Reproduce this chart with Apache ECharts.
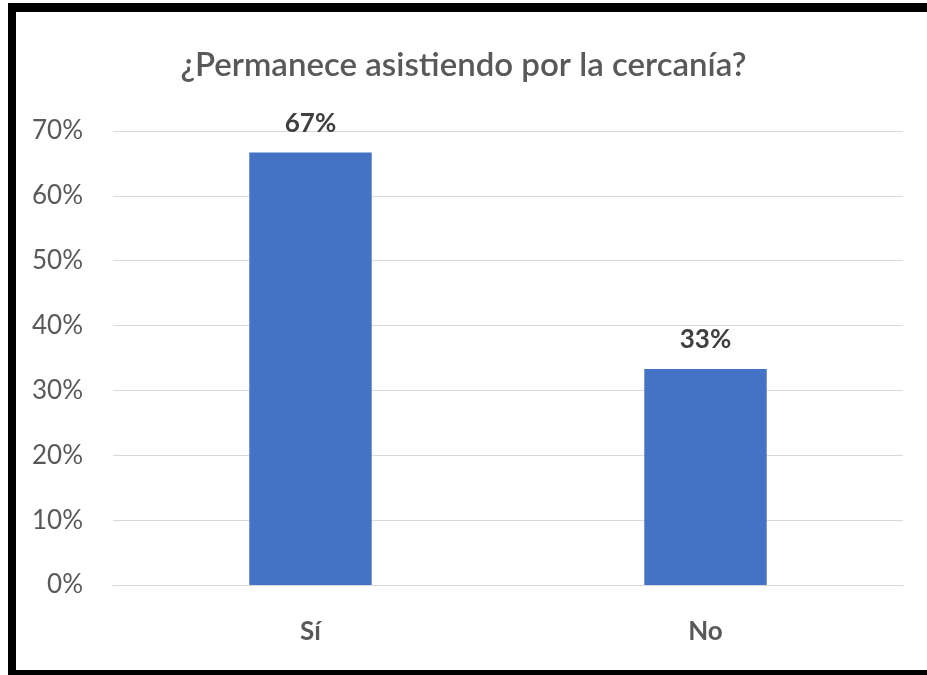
<!DOCTYPE html>
<html>
<head>
<meta charset="utf-8">
<script src="https://cdn.jsdelivr.net/npm/echarts@6/dist/echarts.min.js"></script>
<style>
html,body{margin:0;padding:0;background:#fff;}
#wrap{position:relative;width:927px;height:675px;overflow:hidden;background:#fff;}
#chart{position:absolute;left:0;top:0;width:927px;height:675px;}
.b{position:absolute;background:#000;}
</style>
</head>
<body>
<div id="wrap">
<div id="chart"></div>
<div class="b" style="left:8px;top:3px;width:919px;height:9px;"></div>
<div class="b" style="left:8px;top:3px;width:8px;height:672px;"></div>
<div class="b" style="left:8px;top:670px;width:919px;height:5px;"></div>
</div>
<script>
const titleText = '¿Permanece asistiendo por la cercanía?';
const categories = ['Sí', 'No'];
const values = [0.667, 0.333];
const yMin = 0, yMax = 0.7, yStep = 0.1;

const chart = echarts.init(document.getElementById('chart'), null, {renderer: 'canvas'});
chart.setOption({
  backgroundColor: '#fff',
  animation: false,
  title: {
    text: titleText,
    left: 'center',
    top: 44,
    textStyle: {fontFamily: 'Lato', fontSize: 33, fontWeight: 600, color: '#595959'}
  },
  grid: {left: 113, right: 24, top: 131, bottom: 90, containLabel: false},
  xAxis: {
    type: 'category',
    data: categories,
    axisLine: {lineStyle: {color: '#d9d9d9', width: 1}},
    axisTick: {show: false},
    axisLabel: {margin: 34, fontFamily: 'Lato', fontSize: 26, fontWeight: 'bold', color: '#595959'}
  },
  yAxis: {
    type: 'value',
    min: yMin, max: yMax, interval: yStep,
    axisLine: {show: false},
    axisTick: {show: false},
    splitLine: {lineStyle: {color: '#d9d9d9', width: 1}},
    axisLabel: {
      margin: 30, fontFamily: 'Lato', fontSize: 26, color: '#595959',
      formatter: v => Math.round(v * 100) + '%'
    }
  },
  series: [{
    type: 'bar',
    data: values,
    barWidth: '31%',
    itemStyle: {color: '#4472C4'},
    label: {
      show: true, position: 'top', distance: 16,
      fontFamily: 'Lato', fontSize: 26, fontWeight: 'bold', color: '#404040',
      formatter: p => Math.round(p.value * 100) + '%'
    }
  }]
});
</script>
</body>
</html>
